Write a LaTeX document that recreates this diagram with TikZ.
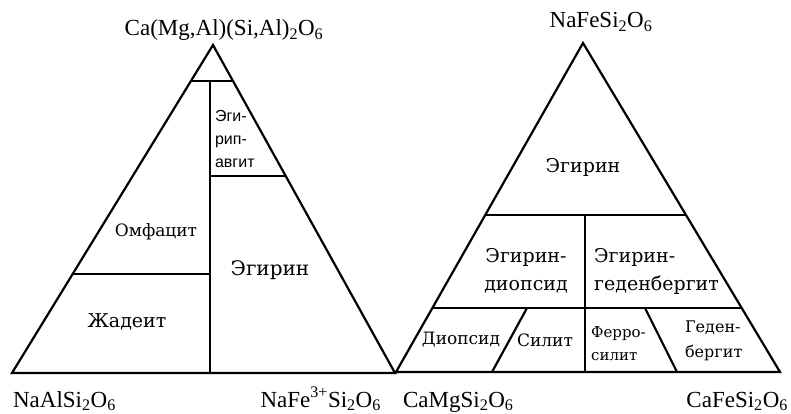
\documentclass[tikz,border=0pt]{standalone}
\usepackage{fontspec}
\setmainfont{Liberation Serif}
\newfontfamily\cyr{DejaVu Serif}
\newfontfamily\lsans{Liberation Sans}
\newcommand{\fsz}[1]{\fontsize{#1}{#1}\selectfont}
\begin{document}
\begin{tikzpicture}[x=1pt,y=-1pt,line width=2.2pt,line join=miter,
  lbl/.style={inner sep=0pt,font=\cyr\fsz{17}},
  formula/.style={inner sep=0pt,font=\fsz{23}}]
\useasboundingbox[fill=white] (0,0) rectangle (791,414);
% ---------- left triangle ----------
\coordinate (LA) at (213,45);
\coordinate (LL) at (12,373);
\coordinate (LR) at (395,373);
\coordinate (L1a) at (191,81);
\coordinate (L1b) at (233,81);
\coordinate (V1) at (210,81);
\coordinate (V2) at (210,373);
\coordinate (L2a) at (210,176);
\coordinate (L2b) at (286,176);
\coordinate (L3a) at (73,274);
\coordinate (L3b) at (210,274);
\draw (LA) -- (LL) -- (LR) -- cycle;
\draw (L1a) -- (L1b);
\draw (V1) -- (V2);
\draw (L2a) -- (L2b);
\draw (L3a) -- (L3b);
% ---------- right triangle ----------
\coordinate (RA) at (583,43);
\coordinate (RL) at (396,372);
\coordinate (RR) at (780,372);
\coordinate (R1a) at (485,215);
\coordinate (R1b) at (686,215);
\coordinate (R2a) at (585,215);
\coordinate (R2b) at (585,372);
\coordinate (R3a) at (432,308);
\coordinate (R3b) at (742,308);
\coordinate (R4a) at (527,308);
\coordinate (R4b) at (492,372);
\coordinate (R5a) at (645,308);
\coordinate (R5b) at (677,372);
\draw (RA) -- (RL) -- (RR) -- cycle;
\draw (R1a) -- (R1b);
\draw (R2a) -- (R2b);
\draw (R3a) -- (R3b);
\draw (R4a) -- (R4b);
\draw (R5a) -- (R5b);
% ---------- left labels ----------
\node[inner sep=0pt,anchor=north west,align=left,font=\lsans\fontsize{16}{23}\selectfont] (egav) at (214,109) {Эги-\\рип-\\авгит};
\node[lbl] (omf) at (156,232) {Омфацит};
\node[lbl,font=\cyr\fsz{19}] (jad) at (127,322) {Жадеит};
\node[lbl,font=\cyr\fsz{20}] (egl) at (270,270) {Эгирин};
% ---------- right labels ----------
\node[lbl,font=\cyr\fsz{19}] (egr) at (583,167) {Эгирин};
\node[lbl,align=center,font=\cyr\fontsize{19}{28}\selectfont] (egdi) at (526,271) {Эгирин-\\диопсид};
\node[lbl,align=left,anchor=west,font=\cyr\fontsize{19}{28}\selectfont] (eggd) at (593,271) {Эгирин-\\геденбергит};
\node[lbl] (dio) at (461,340) {Диопсид};
\node[lbl] (sil) at (545,340) {Силит};
\node[lbl,align=left,anchor=west,font=\cyr\fontsize{15}{23}\selectfont] (fsil) at (590,344) {Ферро-\\силит};
\node[lbl,align=left,anchor=west,font=\cyr\fontsize{16}{25}\selectfont] (ged) at (684,341) {Геден-\\бергит};
% ---------- formulas ----------
\node[formula,anchor=base] (fCa) at (224,36) {Ca(Mg,Al)(Si,Al)\textsubscript{2}O\textsubscript{6}};
\node[formula,anchor=base] (fNaFe) at (601,28) {NaFeSi\textsubscript{2}O\textsubscript{6}};
\node[formula,anchor=base west] (fNaAl) at (12,407) {NaAlSi\textsubscript{2}O\textsubscript{6}};
\node[formula,anchor=base east] (fNaFe3) at (382,407) {NaFe\textsuperscript{3+}Si\textsubscript{2}O\textsubscript{6}};
\node[formula,anchor=base west] (fCaMg) at (402,407) {CaMgSi\textsubscript{2}O\textsubscript{6}};
\node[formula,anchor=base east] (fCaFe) at (789,407) {CaFeSi\textsubscript{2}O\textsubscript{6}};
\end{tikzpicture}
\end{document}
